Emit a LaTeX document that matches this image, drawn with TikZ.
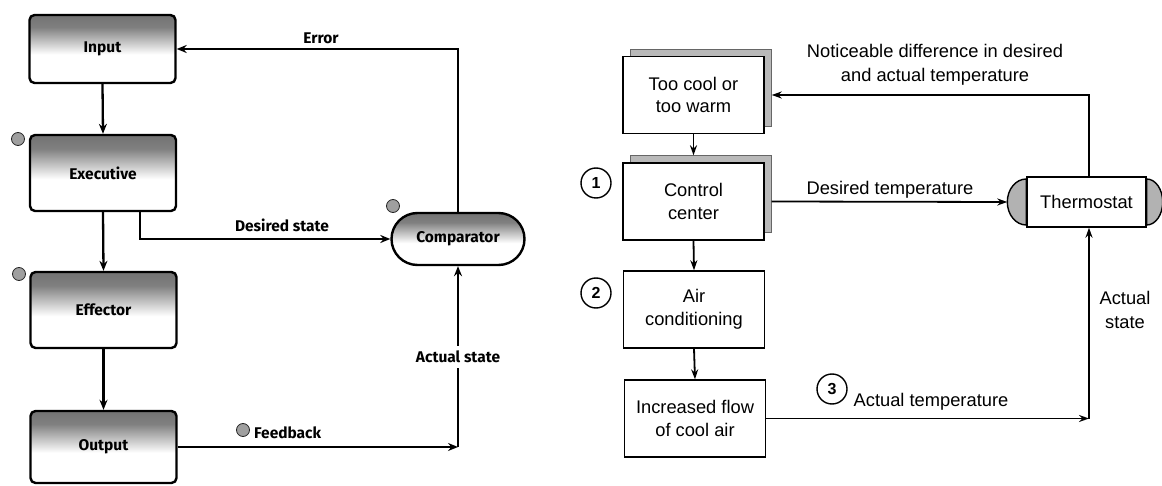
\documentclass[tikz,border=0pt]{standalone}
\usepackage{fontspec}
\setmainfont{Liberation Sans}
\newfontfamily\lfont{Fira Sans}
\usetikzlibrary{arrows.meta,shadows,calc,shapes.misc}
\pgfdeclareverticalshading{boxshade}{100bp}{color(0bp)=(white); color(25bp)=(white); color(46bp)=(white); color(66bp)=(black!50); color(75bp)=(black!55); color(100bp)=(black!55)}
\begin{document}
\begin{tikzpicture}[x=1pt,y=-1pt,
  lbox/.style={draw, line width=2.4pt, rounded corners=5pt, shade, shading=boxshade,
    minimum width=146pt, minimum height=74pt, inner sep=2pt,
    font=\lfont\bfseries\fontsize{15.5}{18}\selectfont},
  comp/.style={draw, line width=2.4pt, rounded rectangle, shade, shading=boxshade,
    minimum width=137pt, minimum height=52pt, inner sep=2pt,
    font=\lfont\bfseries\fontsize{15.5}{18}\selectfont},
  ltext/.style={font=\lfont\bfseries\fontsize{15.5}{18}\selectfont, inner sep=1pt},
  arr/.style={line width=2.3pt, -{Stealth[length=10pt,width=8pt]}},
  dot/.style={circle, fill=gray!75, draw=gray!30!black, line width=0.8pt, minimum size=13pt, inner sep=0pt},
  rbox/.style={draw, line width=1.4pt, fill=white, minimum width=141pt, minimum height=77pt,
    align=center, inner sep=3pt, font=\fontsize{18.3}{22.5}\selectfont},
  pagebox/.style={rbox, copy shadow={shadow xshift=7pt, shadow yshift=7pt, fill=gray!55, draw=gray!80!black, line width=1pt}},
  rtext/.style={align=center, inner sep=1pt, font=\fontsize{18.3}{23.5}\selectfont},
  arr2/.style={line width=1.8pt, -{Stealth[length=10pt,width=7pt]}},
  num/.style={circle, draw, line width=1.4pt, minimum size=30pt, inner sep=0pt, fill=white,
    font=\bfseries\fontsize{16}{16}\selectfont},
  capfill/.style={fill=gray!60, draw, line width=1.4pt}
]
\useasboundingbox (0,0) rectangle (1162,486);

% ---------- left diagram ----------
\node[lbox, minimum height=68pt] (inp) at (102.5,49) {Input};
\node[lbox, minimum height=76pt] (exe) at (103,173) {Executive};
\node[lbox, minimum height=76pt] (eff) at (103.5,310) {Effector};
\node[lbox, minimum height=72pt] (out) at (103.5,447) {Output};
\node[comp] (cmp) at (458,239) {Comparator};

\node[dot] (d1) at (18,139) {};
\node[dot] (d2) at (19,274) {};
\node[dot] (d3) at (393,206) {};
\node[dot] (d4) at (243,430) {};

\draw[arr] (inp.south) -- (exe.north);
\draw[arr] (exe.south) -- (eff.north);
\draw[arr] (eff.south) -- (out.north);
\draw[arr] ([xshift=37pt]exe.south) |- (cmp.west);
\draw[arr] (cmp.north) |- (inp.east);
\coordinate (fb) at (458,447);
\draw[arr] (out.east) -- (fb);
\draw[arr] (fb) -- node[ltext, fill=white, inner ysep=5pt] (as) {Actual state} (cmp.south);

\node[ltext] (lerr) at (321,38) {Error};
\node[ltext] (lds) at (282,225) {Desired state};
\node[ltext, anchor=west] (lfb) at (253,433) {Feedback};

% ---------- right diagram ----------
\node[pagebox] (tc) at (693.5,95) {Too cool or\\too warm};
\node[pagebox] (cc) at (693.5,201.5) {Control\\center};
\node[rbox] (ac) at (694,309.5) {Air\\conditioning};
\node[rbox] (inc) at (695,418.5) {Increased flow\\of cool air};
\node[draw, line width=1.4pt, fill=white, minimum width=119pt, minimum height=50pt, inner sep=2pt,
  font=\fontsize{18.3}{22}\selectfont] (th) at (1086.5,202) {Thermostat};
\draw[capfill] ($(th.west)+(0,-23)$) arc[start angle=90, end angle=270, x radius=19pt, y radius=23pt] -- cycle;
\draw[capfill] ($(th.east)+(0,-23)$) arc[start angle=90, end angle=-90, x radius=16pt, y radius=23pt] -- cycle;
\coordinate (thL) at ($(th.west)+(-19,0)$);

\node[num] (n1) at (596,183) {1};
\node[num] (n2) at (596,293) {2};
\node[num] (n3) at (832,389) {3};

\draw[arr2] (tc.south) -- ([yshift=7pt]cc.north);
\draw[arr2] (cc.south) -- (ac.north);
\draw[arr2] (ac.south) -- (inc.north);
\draw[arr2] ([xshift=7pt]cc.east) -- (thL);
\draw[arr2] ([xshift=2.5pt]th.north) |- ([xshift=7pt]tc.east);
\coordinate (at) at (1089,418.5);
\draw[arr2] (inc.east) -- (at);
\draw[arr2] (at) -- ([xshift=2.5pt]th.south);

\node[rtext] (lnd) at (935,65) {Noticeable difference in desired\\and actual temperature};
\node[rtext] (ldt) at (890,190) {Desired temperature};
\node[rtext] (lat) at (931,402) {Actual temperature};
\node[rtext] (las) at (1125,310) {Actual\\state};
\end{tikzpicture}
\end{document}
